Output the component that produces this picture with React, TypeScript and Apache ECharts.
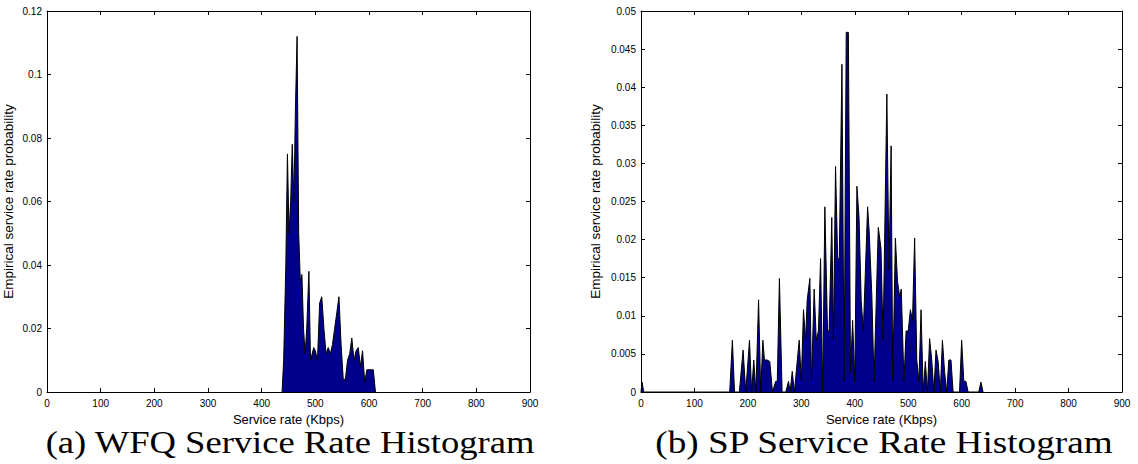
import React, { useEffect, useRef } from "react";
import * as echarts from "echarts";

// WFQ histogram (service rate in Kbps, empirical probability)
const wfqX = [438, 441, 445, 448, 451, 454, 457, 460, 463, 466, 469, 472, 475, 478, 481, 484, 488, 491, 494, 497, 500, 504, 508, 512, 516, 520, 524, 528, 532, 536, 540, 544, 548, 552, 556, 560, 564, 568, 572, 576, 580, 584, 588, 592, 596, 600, 604, 608, 612];
const wfqY = [0, 0.01, 0.04, 0.075, 0.05, 0.06, 0.078, 0.06, 0.09, 0.112, 0.05, 0.035, 0.037, 0.02, 0.012, 0.02, 0.038, 0.01, 0.012, 0.014, 0.013, 0.01, 0.028, 0.03, 0.02, 0.012, 0.014, 0.012, 0.015, 0.02, 0.025, 0.03, 0.015, 0.004, 0.004, 0.01, 0.012, 0.017, 0.01, 0.013, 0.014, 0.008, 0.013, 0.003, 0.007, 0.007, 0.007, 0.007, 0];

// SP histogram
const spX = [0, 2, 5, 166, 171, 175, 184, 191, 196, 203, 207, 211, 215, 220, 224, 228, 231, 236, 241, 246, 252, 255, 259, 264, 271, 276, 279, 283, 287, 296, 300, 304, 308, 311, 316, 319, 324, 328, 332, 336, 340, 344, 349, 352, 357, 360, 364, 368, 371, 376, 380, 384, 388, 392, 396, 400, 404, 408, 412, 416, 424, 427, 432, 436, 444, 449, 453, 460, 464, 468, 471, 476, 480, 484, 487, 492, 496, 500, 504, 508, 512, 516, 520, 524, 528, 532, 536, 540, 544, 548, 552, 556, 560, 564, 568, 572, 576, 580, 584, 596, 600, 604, 608, 612, 632, 636, 640];
const spY = [0, 0.0013, 0, 0, 0.0068, 0, 0, 0.0055, 0, 0.0068, 0, 0.0042, 0, 0.0121, 0, 0.0068, 0.0042, 0.0042, 0.004, 0, 0.0014, 0.0014, 0.0149, 0, 0, 0.0014, 0, 0.0027, 0, 0.0068, 0.0014, 0.0108, 0.0068, 0.0121, 0.0149, 0.0014, 0.0135, 0.0068, 0.008, 0.0175, 0, 0.0243, 0.008, 0.008, 0.0229, 0.0068, 0.0296, 0.0175, 0.0175, 0.043, 0.0014, 0.0472, 0.0472, 0.0027, 0.0094, 0.0014, 0.027, 0.0229, 0.012, 0.008, 0.0243, 0.021, 0.0125, 0.0014, 0.0216, 0.0189, 0.0068, 0.0391, 0.016, 0.0323, 0.0014, 0.0202, 0.0145, 0.0125, 0.0135, 0.0014, 0.008, 0.008, 0.0108, 0.0094, 0.0202, 0.0042, 0.0014, 0.0108, 0, 0.004, 0, 0.007, 0.0042, 0, 0.0055, 0.004, 0, 0.0068, 0.0027, 0, 0.0042, 0.0042, 0, 0, 0.0068, 0.0014, 0.0014, 0, 0, 0.0013, 0];

const titles = ["(a) WFQ Service Rate Histogram", "(b) SP Service Rate Histogram"];
const xName = "Service rate (Kbps)";
const yName = "Empirical service rate probability";

export default function App() {
  const ref = useRef<HTMLDivElement>(null);
  useEffect(() => {
    if (!ref.current) return;
    const chart = echarts.init(ref.current, undefined, { renderer: "svg" });
    const sans = "Liberation Sans";
    const grids = [
      { left: 47, right: 608, top: 11, bottom: 72 },
      { left: 641, right: 16, top: 11, bottom: 72 },
    ];
    const yMax = [0.12, 0.05];
    const yInt = [0.02, 0.005];
    const yGap = [32, 39];
    const fmt = (v: number) => String(parseFloat(v.toFixed(4)));
    const xAxis: any[] = [];
    const yAxis: any[] = [];
    grids.forEach((g, i) => {
      const base = {
        gridIndex: i,
        type: "value",
        min: 0,
        max: 900,
        interval: 100,
        splitLine: { show: false },
        axisLine: { show: true, onZero: false, lineStyle: { color: "#000", width: 1 } },
        axisTick: { show: true, inside: true, length: 4, lineStyle: { color: "#000" } },
      };
      xAxis.push({
        ...base,
        position: "bottom",
        name: xName,
        nameLocation: "middle",
        nameGap: 20,
        nameTextStyle: { fontFamily: sans, fontSize: 13, color: "#000" },
        axisLabel: { fontFamily: sans, fontSize: 10, color: "#000", margin: 6 },
      });
      xAxis.push({ ...base, position: "top", axisLabel: { show: false } });
      const ybase = {
        gridIndex: i,
        type: "value",
        min: 0,
        max: yMax[i],
        interval: yInt[i],
        splitLine: { show: false },
        axisLine: { show: true, onZero: false, lineStyle: { color: "#000", width: 1 } },
        axisTick: { show: true, inside: true, length: 4, lineStyle: { color: "#000" } },
      };
      yAxis.push({
        ...ybase,
        position: "left",
        name: yName,
        nameLocation: "middle",
        nameGap: yGap[i],
        nameTextStyle: { fontFamily: sans, fontSize: 13.5, color: "#000" },
        axisLabel: { fontFamily: sans, fontSize: 10, color: "#000", margin: 5, formatter: fmt },
      });
      yAxis.push({ ...ybase, position: "right", axisLabel: { show: false } });
    });
    const mk = (xs: number[], ys: number[]) => xs.map((x, k) => [x, ys[k]]);
    const seriesStyle = {
      type: "line",
      symbol: "none",
      lineStyle: { color: "#000", width: 1 },
      areaStyle: { color: "#00008C", opacity: 1 },
    };
    const titleStyle = (t: string) => ({
      text: t,
      font: "31px 'Liberation Serif'",
      fill: "#000",
      textAlign: "center",
      textVerticalAlign: "middle",
    });
    chart.setOption({
      animation: false,
      backgroundColor: "#fff",
      grid: grids,
      xAxis,
      yAxis,
      series: [
        { ...seriesStyle, xAxisIndex: 0, yAxisIndex: 0, data: mk(wfqX, wfqY) },
        { ...seriesStyle, xAxisIndex: 2, yAxisIndex: 2, data: mk(spX, spY) },
      ],
      graphic: [
        { type: "text", x: 290, y: 442, scaleX: 1.18, style: titleStyle(titles[0]) },
        { type: "text", x: 884, y: 442, scaleX: 1.2, style: titleStyle(titles[1]) },
      ],
    });
    return () => chart.dispose();
  }, []);
  return <div ref={ref} style={{ position: "absolute", left: 0, top: 0, width: 1138, height: 464 }} />;
}
